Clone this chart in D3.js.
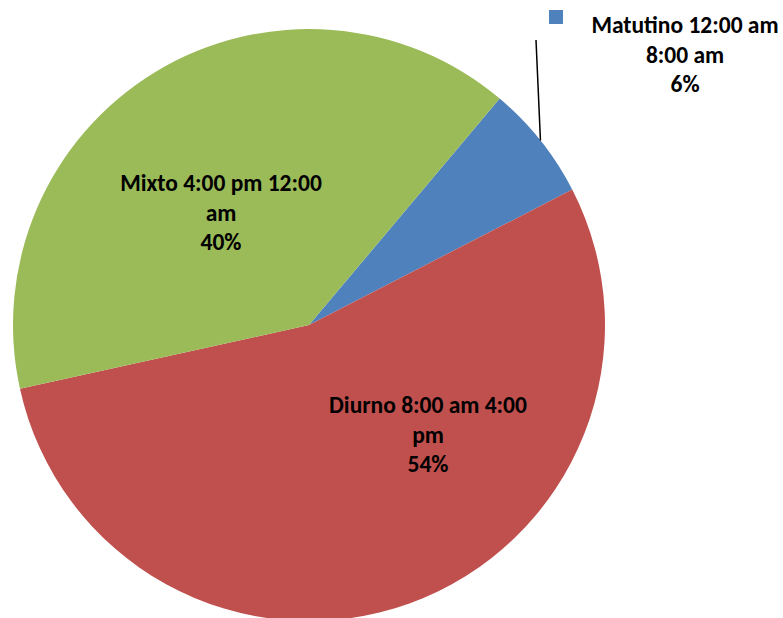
<!DOCTYPE html>
<html>
<head>
<meta charset="utf-8">
<script src="https://cdn.jsdelivr.net/npm/d3@7"></script>
<style>
  body { margin: 0; background: #fff; }
  text { font-family: Carlito, Lato, sans-serif; font-weight: bold; }
</style>
</head>
<body>
<script>
let w = 783;
let h = 618;

let categories = ["Matutino 12:00 am 8:00 am", "Diurno 8:00 am 4:00 pm", "Mixto 4:00 pm 12:00 am"];
let values = [6.3, 54.1, 39.6];
let colors = ["#4F81BD", "#C0504D", "#9BBB59"];
// label lines as wrapped in the chart
let labelLines = [["Matutino 12:00 am", "8:00 am"], ["Diurno 8:00 am 4:00", "pm"], ["Mixto 4:00 pm 12:00", "am"]];

let cx = 309, cy = 325, r = 296;
let startDeg = 40.1;

let svg = d3.select("body")
            .append("svg")
            .attr("width", w)
            .attr("height", h);

let total = d3.sum(values);
let pie = d3.pie()
            .sort(null)
            .startAngle(startDeg * Math.PI / 180)
            .endAngle(startDeg * Math.PI / 180 + 2 * Math.PI);
let arcs = pie(values);
let arc = d3.arc().innerRadius(0).outerRadius(r);

let g = svg.append("g").attr("transform", "translate(" + cx + "," + cy + ")");
g.selectAll("path")
 .data(arcs)
 .enter()
 .append("path")
 .attr("d", arc)
 .attr("fill", function(d, i) { return colors[i]; });

// label positions (relative to center): Matutino sits outside with leader line
let labelPos = [[376, -292], [119, 88], [-88, -134]];
let lineH = 29.5;
let fontSize = 23.5;

// leader line for small slice
let mid = (arcs[0].startAngle + arcs[0].endAngle) / 2;
svg.append("line")
   .attr("x1", 536).attr("y1", 40)
   .attr("x2", cx + Math.sin(mid) * r)
   .attr("y2", cy - Math.cos(mid) * r)
   .attr("stroke", "#000")
   .attr("stroke-width", 1.5);

// legend square next to outside label
svg.append("rect")
   .attr("x", 549).attr("y", 10)
   .attr("width", 14).attr("height", 14)
   .attr("fill", colors[0]);

arcs.forEach(function(d, i) {
    let lines = labelLines[i].concat([Math.round(values[i] / total * 100) + "%"]);
    let t = g.append("text")
             .attr("text-anchor", "middle")
             .attr("font-size", fontSize + "px")
             .attr("fill", "#000");
    lines.forEach(function(s, j) {
        t.append("tspan")
         .attr("x", labelPos[i][0])
         .attr("y", labelPos[i][1] + j * lineH)
         .text(s);
    });
});
</script>
</body>
</html>
